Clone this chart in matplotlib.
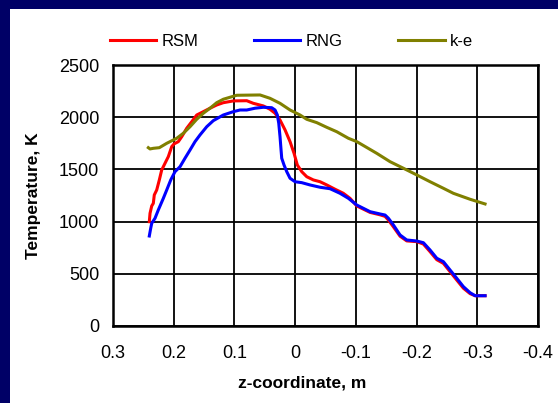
import numpy as np
import matplotlib
matplotlib.use("Agg")
import matplotlib.pyplot as plt
from matplotlib.patches import Rectangle

plt.rcParams["font.family"] = ["Liberation Sans", "DejaVu Sans"]

# RSM
rsm_z = [0.2402, 0.2390, 0.2362, 0.2336, 0.2320, 0.2280, 0.2237, 0.2198, 0.2143, 0.2089,
         0.2033, 0.1995, 0.1924, 0.1868, 0.1786, 0.1703, 0.1621, 0.1512, 0.1402, 0.1292,
         0.1183, 0.1018, 0.0797, 0.0689, 0.0524, 0.0414, 0.0331, 0.0249, 0.0166, 0.0084,
         0.0018, -0.0036, -0.0109, -0.0191, -0.0300, -0.0410, -0.0521, -0.0657, -0.0794,
         -0.0904, -0.1015, -0.1234, -0.1399, -0.1481, -0.1536, -0.1618, -0.1728, -0.1838,
         -0.2003, -0.2112, -0.2222, -0.2333, -0.2442, -0.2552, -0.2662, -0.2771, -0.2881,
         -0.2964, -0.3128]
rsm_t = [999, 1080, 1150, 1175, 1255, 1303, 1399, 1494, 1559, 1622,
         1718, 1744, 1766, 1813, 1894, 1957, 2021, 2053, 2086, 2117,
         2139, 2156, 2158, 2133, 2108, 2076, 2038, 1973, 1878, 1766,
         1654, 1542, 1478, 1430, 1399, 1382, 1351, 1310, 1271,
         1223, 1150, 1088, 1065, 1050, 1015, 950, 860, 815,
         808, 785, 712, 635, 600, 520, 440, 362, 310,
         290, 290]

# RNG
rng_z = [0.2402, 0.2379, 0.2362, 0.2308, 0.2254, 0.2171, 0.2115, 0.2049, 0.1979, 0.1896,
         0.1814, 0.1731, 0.1649, 0.1567, 0.1456, 0.1348, 0.1183, 0.1018, 0.0908, 0.0797,
         0.0661, 0.0524, 0.0386, 0.0331, 0.0293, 0.0270, 0.0249, 0.0232, 0.0221, 0.0183,
         0.0138, 0.0084, 0.0002, -0.0109, -0.0245, -0.0410, -0.0575, -0.0739, -0.0877,
         -0.1015, -0.1234, -0.1399, -0.1481, -0.1536, -0.1618, -0.1728, -0.1838, -0.2003,
         -0.2112, -0.2222, -0.2333, -0.2442, -0.2552, -0.2662, -0.2771, -0.2881, -0.2964,
         -0.3128]
rng_t = [862, 936, 984, 1032, 1111, 1223, 1303, 1399, 1478, 1526,
         1607, 1686, 1766, 1830, 1909, 1967, 2021, 2053, 2069, 2069,
         2086, 2095, 2091, 2069, 2021, 1942, 1813, 1686, 1607, 1542,
         1478, 1415, 1382, 1373, 1351, 1329, 1315, 1271, 1223,
         1159, 1095, 1073, 1063, 1032, 968, 872, 824, 814,
         798, 728, 649, 616, 536, 457, 377, 319, 290,
         290]

# k-e
ke_z = [0.2418, 0.2390, 0.2336, 0.2237, 0.2115, 0.1951, 0.1842, 0.1731, 0.1621, 0.1512,
        0.1402, 0.1292, 0.1183, 0.1073, 0.0962, 0.0578, 0.0414, 0.0249, 0.0084, -0.0081,
        -0.0191, -0.0356, -0.0521, -0.0685, -0.0877, -0.1015, -0.1344, -0.1563, -0.1783,
        -0.2003, -0.2222, -0.2442, -0.2606, -0.2881, -0.3128]
ke_t = [1708, 1696, 1702, 1708, 1750, 1798, 1846, 1909, 1980, 2038,
        2086, 2139, 2172, 2191, 2210, 2213, 2181, 2133, 2069, 2021,
        1980, 1948, 1903, 1861, 1798, 1766, 1654, 1574, 1511,
        1447, 1382, 1319, 1271, 1214, 1169]

x_ticks = [0.3, 0.2, 0.1, 0, -0.1, -0.2, -0.3, -0.4]
x_labels = ["0.3", "0.2", "0.1", "0", "-0.1", "-0.2", "-0.3", "-0.4"]
y_ticks = [0, 500, 1000, 1500, 2000, 2500]

fig = plt.figure(figsize=(5.58, 4.03), dpi=100)
fig.patch.set_facecolor("#000066")
fig.patches.append(Rectangle((10 / 558, 0), 1, 1 - 9 / 403, transform=fig.transFigure,
                             facecolor="white", edgecolor="none", zorder=-10))

ax = fig.add_axes([113 / 558, 77 / 403, 425 / 558, 261 / 403])
ax.set_zorder(1)
ax.plot(rsm_z, rsm_t, color="#ff0000", lw=2.2, label="RSM")
ax.plot(rng_z, rng_t, color="#0000ff", lw=2.2, label="RNG")
ax.plot(ke_z, ke_t, color="#808000", lw=2.2, label="k-e")

ax.set_xlim(0.3, -0.4)
ax.set_ylim(0, 2500)
ax.set_xticks(x_ticks)
ax.set_xticklabels(x_labels)
ax.set_yticks(y_ticks)
ax.grid(True, color="black", lw=1.3)
ax.set_axisbelow(True)
for s in ax.spines.values():
    s.set_linewidth(1.8)
ax.tick_params(length=0, labelsize=13)
ax.tick_params(axis="x", pad=14)
ax.tick_params(axis="y", pad=10)

ax.set_xlabel("z-coordinate, m", fontsize=12.5, fontweight="bold")
ax.xaxis.set_label_coords(0.445, -0.19)
ax.set_ylabel("Temperature, K", fontsize=12.5, fontweight="bold")
ax.yaxis.set_label_coords(-0.17, 0.5)

fig.legend(loc="center left", bbox_to_anchor=(110 / 558, 1 - 41 / 403), ncol=3,
           frameon=False, fontsize=12, handlelength=2.78, handletextpad=0.3,
           columnspacing=3.35, borderpad=0, borderaxespad=0)

fig.savefig("out.png", dpi=100, facecolor=fig.get_facecolor())
